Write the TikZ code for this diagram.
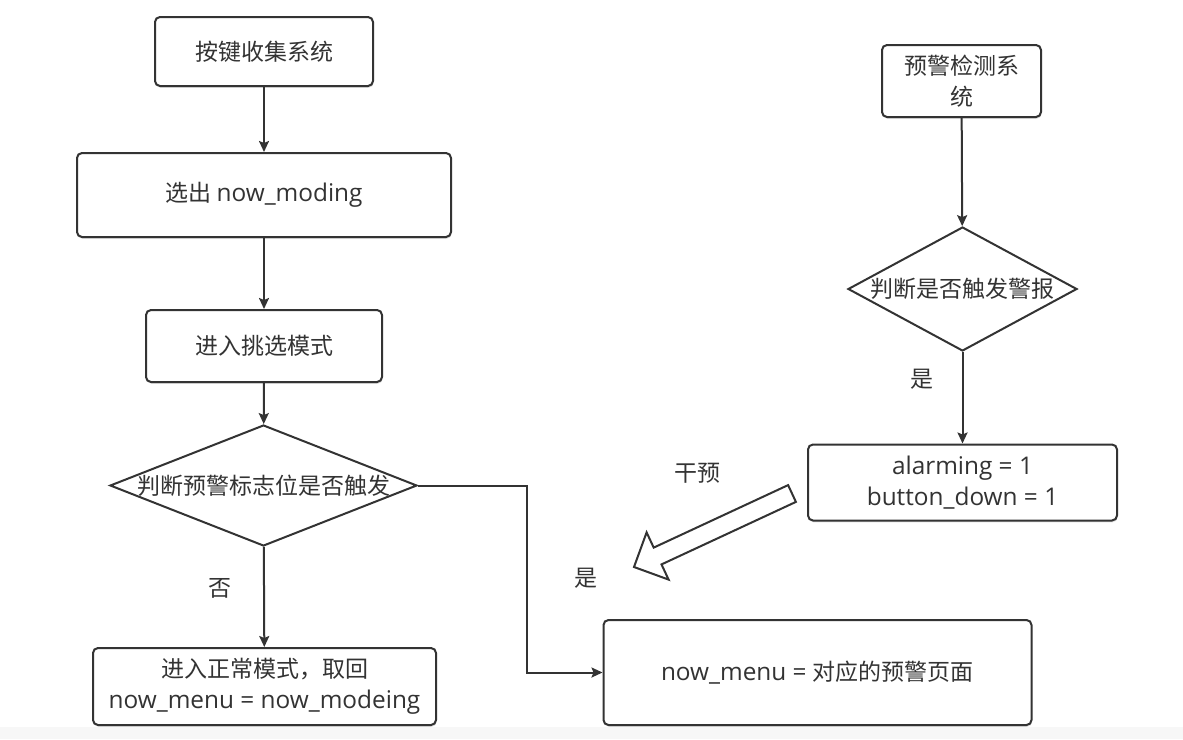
\documentclass[tikz,border=0pt]{standalone}
\usepackage{fontspec}
\setmainfont{Noto Sans CJK SC}
\newfontfamily\lat{Open Sans}[Scale=1.06]
\usetikzlibrary{shapes.geometric,arrows.meta,shadows}
\definecolor{ln}{HTML}{333333}
\definecolor{tx}{HTML}{333333}
\begin{document}
\begin{tikzpicture}[x=1pt,y=-1pt,
  font=\fontsize{23}{31}\selectfont,
  every node/.style={text=tx},
  box/.style={draw=ln, line width=2pt, rounded corners=5pt, fill=white, align=center,
    drop shadow={shadow xshift=0.6pt, shadow yshift=-1.8pt, opacity=0.25}},
  dia/.style={draw=ln, line width=2pt, diamond, inner sep=0pt, fill=white},
  arr/.style={draw=ln, line width=2pt, -{Stealth[length=11pt,width=10pt,inset=2pt]}},
  lbl/.style={inner sep=0pt}]
\useasboundingbox (0,0) rectangle (1183,739);
\fill[gray!6] (0,727) rectangle (1183,739);

% left column
\node[box, minimum width=218pt, minimum height=69pt] (b1) at (264,51.5) {按键收集系统};
\node[box, minimum width=374pt, minimum height=84pt] (b2) at (264,195) {选出 {\lat now\_moding}};
\node[box, minimum width=236pt, minimum height=72pt] (b3) at (264,346) {进入挑选模式};
\node[dia, minimum width=307pt, minimum height=121pt,
      label={[text=tx]center:判断预警标志位是否触发}] (d1) at (263.5,485.5) {};
\node[box, minimum width=343pt, minimum height=77pt] (b4) at (264.5,686.5) {进入正常模式，取回\\{\lat now\_menu = now\_modeing}};

% right column
\node[box, minimum width=159pt, minimum height=72pt] (b6) at (961.5,81) {预警检测系\\统};
\node[dia, minimum width=229pt, minimum height=124pt,
      label={[text=tx]center:判断是否触发警报}] (d2) at (962.5,289) {};
\node[box, minimum width=309pt, minimum height=76pt] (b7) at (962.5,482.5) {\lat alarming = 1\\\lat button\_down = 1};
\node[box, minimum width=428pt, minimum height=105pt] (b5) at (817.5,672.5) {{\lat now\_menu = }对应的预警页面};

% connectors
\draw[arr] (b1) -- (b2);
\draw[arr] (b2) -- (b3);
\draw[arr] (b3) -- (d1);
\draw[arr] (d1) -- (b4);
\coordinate (c1) at (527,485.5);
\draw[arr] (d1.east) -- (c1) |- (b5.west);
\draw[arr] (b6) -- (d2);
\draw[arr] (d2) -- (b7);

% labels
\node[lbl] (l1) at (922,379) {是};
\node[lbl] (l2) at (697,473) {干预};
\node[lbl] (l3) at (586,578) {是};
\node[lbl] (l4) at (220,588) {否};

% hollow block arrow
\draw[ln, line width=2pt, line join=miter, fill=white]
  (788.1,485.1) -- (653.7,547.6) -- (646.6,532.4) -- (634,567)
  -- (668.6,579.6) -- (661.5,564.4) -- (795.9,501.9) -- cycle;
\end{tikzpicture}
\end{document}
